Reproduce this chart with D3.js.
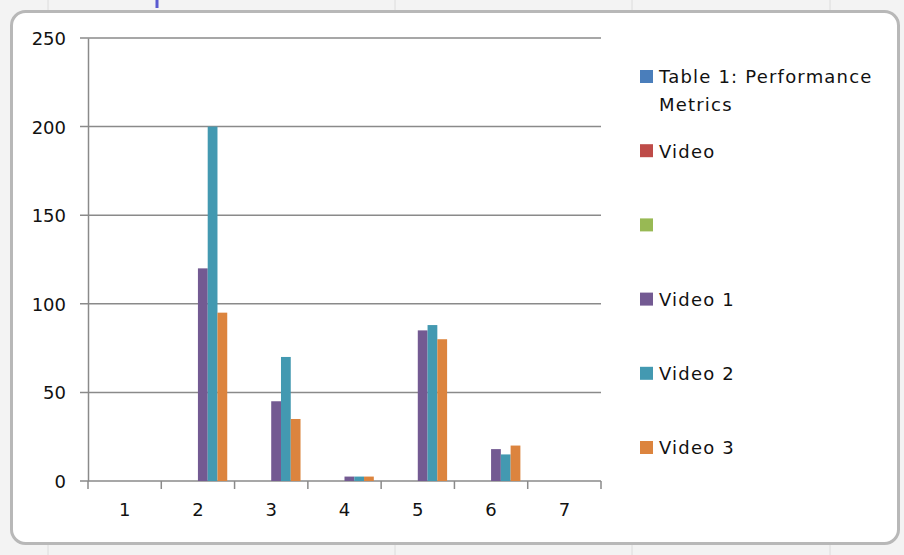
<!DOCTYPE html>
<html lang="en">
<head>
    <meta charset="utf-8">
    <title>Performance Metrics</title>
    <style type="text/css">
        body { margin: 0; background: #f7f7f7; }
        svg text { font-family: "DejaVu Sans", Verdana, sans-serif; fill: #111; }
    </style>
</head>
<body>
   <svg class="svg_bar" width="904" height="555"></svg>

   <script src="https://cdn.jsdelivr.net/npm/d3@7"></script>
   <script>
        // 数据
        var categories = ['1', '2', '3', '4', '5', '6', '7'];
        var seriesNames = ['Table 1: Performance Metrics', 'Video', '', 'Video 1', 'Video 2', 'Video 3'];
        var seriesColors = ['#4a7ebb', '#be4b48', '#98b954', '#735a92', '#4399b1', '#dc843e'];
        var table1Values = [null, null, null, null, null, null, null];
        var videoValues = [null, null, null, null, null, null, null];
        var blankValues = [null, null, null, null, null, null, null];
        var video1Values = [null, 120, 45, 2.5, 85, 18, null];
        var video2Values = [null, 200, 70, 2.5, 88, 15, null];
        var video3Values = [null, 95, 35, 2.5, 80, 20, null];
        var yTicks = [0, 50, 100, 150, 200, 250];

        var series = [table1Values, videoValues, blankValues, video1Values, video2Values, video3Values];

        var svg = d3.select('.svg_bar');

        // 外框 (表格背景)
        svg.append('rect').attr('x', 0).attr('y', 0).attr('width', 904).attr('height', 555).attr('fill', '#f3f3f3');
        [48, 395, 632, 830].forEach(function(x) {
            svg.append('line').attr('x1', x).attr('x2', x).attr('y1', 0).attr('y2', 555)
                .attr('stroke', '#dcdcdc');
        });
        svg.append('rect').attr('x', 11.5).attr('y', 11.5).attr('width', 887).attr('height', 532)
            .attr('rx', 14).attr('fill', '#fff').attr('stroke', '#b8b8b8').attr('stroke-width', 3);
        svg.append('rect').attr('x', 155.5).attr('y', 0).attr('width', 3).attr('height', 8).attr('fill', '#5a5ad0');

        // 比例尺
        var x = d3.scaleBand().domain(categories).range([88, 601]);
        var y = d3.scaleLinear().domain([0, 250]).range([481, 38]);
        var bw = x.bandwidth() / 7.5;   // gap width 150%

        var g = svg.append('g');

        // 网格线
        g.selectAll('line.grid').data(yTicks).enter().append('line')
            .attr('class', 'grid')
            .attr('x1', 80).attr('x2', 601)
            .attr('y1', function(d) { return y(d); }).attr('y2', function(d) { return y(d); })
            .attr('stroke', '#8a8a8a').attr('stroke-width', 1.5);

        // 柱子
        series.forEach(function(vals, si) {
            var pts = vals.map(function(v, i) { return {cat: categories[i], v: v}; })
                          .filter(function(d) { return d.v != null; });
            g.selectAll('rect.s' + si).data(pts).enter().append('rect')
                .attr('class', 's' + si)
                .attr('x', function(d) { return x(d.cat) + bw * (0.75 + si); })
                .attr('y', function(d) { return y(d.v); })
                .attr('width', bw)
                .attr('height', function(d) { return y(0) - y(d.v); })
                .attr('fill', seriesColors[si]);
        });

        // 坐标轴
        var yAxis = g.append('g').attr('transform', 'translate(88,0)')
            .call(d3.axisLeft(y).tickValues(yTicks).tickSize(0).tickPadding(22));
        yAxis.select('.domain').attr('stroke', '#8a8a8a').attr('stroke-width', 1.5);
        yAxis.selectAll('text').style('font-size', '18px').attr('dy', '0.36em');

        var xAxis = g.append('g').attr('transform', 'translate(0,481)')
            .call(d3.axisBottom(x).tickSize(0).tickPadding(22));
        xAxis.select('.domain').remove();
        xAxis.selectAll('text').style('font-size', '18px');
        g.selectAll('line.xtick').data(categories.concat(['end'])).enter().append('line')
            .attr('x1', function(d, i) { return 88 + i * x.step(); })
            .attr('x2', function(d, i) { return 88 + i * x.step(); })
            .attr('y1', 481).attr('y2', 489)
            .attr('stroke', '#8a8a8a').attr('stroke-width', 1.5);

        // 图例
        var legend = svg.append('g').selectAll('g').data(seriesNames).enter().append('g')
            .attr('transform', function(d, i) { return 'translate(640,' + (77 + i * 74.2) + ')'; });
        legend.append('rect').attr('x', 0).attr('y', -7).attr('width', 13).attr('height', 13)
            .attr('fill', function(d, i) { return seriesColors[i]; });
        legend.append('text').attr('x', 19).attr('dy', '0.36em')
            .style('font-size', '18px').style('letter-spacing', '1.2px')
            .each(function(d) {
                var t = d3.select(this);
                if (d === 'Table 1: Performance Metrics') {
                    t.append('tspan').attr('x', 19).text('Table 1: Performance');
                    t.append('tspan').attr('x', 19).attr('dy', 28).text('Metrics');
                } else {
                    t.text(d);
                }
            });
   </script>
</body>
</html>
